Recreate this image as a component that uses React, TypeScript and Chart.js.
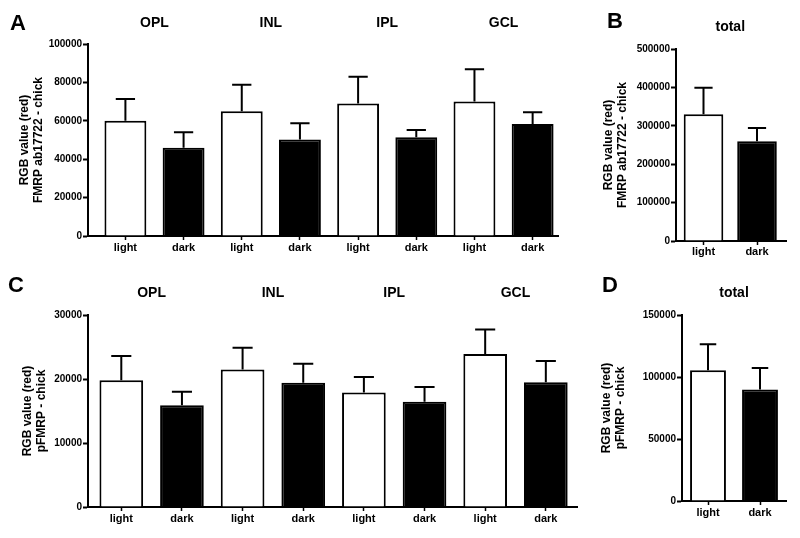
import React, { useEffect, useRef } from 'react';
import { Chart, registerables } from 'chart.js';

Chart.register(...registerables);

// ---------- data ----------
const layers = ['OPL', 'INL', 'IPL', 'GCL'];
const conditions = ['light', 'dark'];
const totalTitle = ['total'];

// A: FMRP ab17722 per layer
const fmrpLight = [60000, 65000, 69000, 70000];
const fmrpLightErr = [11300, 13800, 13900, 16800];
const fmrpDark = [46000, 50300, 51400, 58300];
const fmrpDarkErr = [8000, 8400, 3800, 6100];
// B: FMRP ab17722 total
const fmrpTotal = [330000, 260000];
const fmrpTotalErr = [69000, 34000];
// C: pFMRP per layer
const pfmrpLight = [19800, 21500, 17900, 23900];
const pfmrpLightErr = [3800, 3400, 2400, 3850];
const pfmrpDark = [15900, 19400, 16450, 19500];
const pfmrpDarkErr = [2100, 3000, 2300, 3300];
// D: pFMRP total
const pfmrpTotal = [105500, 90000];
const pfmrpTotalErr = [21000, 17200];

const yTitleFmrp = ['RGB value (red)', 'FMRP ab17722 - chick'];
const yTitlePfmrp = ['RGB value (red)', 'pFMRP - chick'];

const yTicksA = { max: 100000, step: 20000 };
const yTicksB = { max: 500000, step: 100000 };
const yTicksC = { max: 30000, step: 10000 };
const yTicksD = { max: 150000, step: 50000 };

const FONT = "'Liberation Sans', Arial, Helvetica, sans-serif";

function interleave(light: number[], dark: number[]) {
  const out: number[] = [];
  light.forEach((v, i) => { out.push(v, dark[i]); });
  return out;
}

type Panel = {
  letter: string;
  groups: string[];
  labels: string[];
  values: number[];
  errors: number[];
  yTitle: string[];
  yMax: number;
  yStep: number;
  pad: { left: number; right: number; top: number; bottom: number };
  yWidth: number;
  xMin: number;
  xMax: number;
  barPct: number;
  tickPad: number;
  letterPos: [number, number];
  groupY: number;
};

const panels: Panel[] = [
  {
    letter: 'A', groups: layers, labels: layers.flatMap(() => conditions),
    values: interleave(fmrpLight, fmrpDark), errors: interleave(fmrpLightErr, fmrpDarkErr),
    yTitle: yTitleFmrp, yMax: yTicksA.max, yStep: yTicksA.step,
    pad: { left: 18, right: 242, top: 44, bottom: 272 }, yWidth: 70,
    xMin: -0.643, xMax: 7.436, barPct: 0.72, tickPad: 1.4, letterPos: [10, 30], groupY: 23,
  },
  {
    letter: 'B', groups: totalTitle, labels: conditions,
    values: fmrpTotal, errors: fmrpTotalErr,
    yTitle: yTitleFmrp, yMax: yTicksB.max, yStep: yTicksB.step,
    pad: { left: 602, right: 14, top: 49, bottom: 267 }, yWidth: 74,
    xMin: -0.514, xMax: 1.542, barPct: 0.74, tickPad: 0.5, letterPos: [607, 28], groupY: 27,
  },
  {
    letter: 'C', groups: layers, labels: layers.flatMap(() => conditions),
    values: interleave(pfmrpLight, pfmrpDark), errors: interleave(pfmrpLightErr, pfmrpDarkErr),
    yTitle: yTitlePfmrp, yMax: yTicksC.max, yStep: yTicksC.step,
    pad: { left: 21, right: 223, top: 315, bottom: 1 }, yWidth: 67,
    xMin: -0.549, xMax: 7.514, barPct: 0.72, tickPad: 1, letterPos: [8, 292], groupY: 293,
  },
  {
    letter: 'D', groups: totalTitle, labels: conditions,
    values: pfmrpTotal, errors: pfmrpTotalErr,
    yTitle: yTitlePfmrp, yMax: yTicksD.max, yStep: yTicksD.step,
    pad: { left: 600, right: 14, top: 315, bottom: 7 }, yWidth: 82,
    xMin: -0.5, xMax: 1.5, barPct: 0.69, tickPad: 1.5, letterPos: [602, 292], groupY: 293,
  },
];

function makeChart(canvas: HTMLCanvasElement, p: Panel) {
  const perGroup = p.labels.length / p.groups.length;
  const overlay = {
    id: 'overlay' + p.letter,
    afterDatasetsDraw(chart: any) {
      const ctx = chart.ctx;
      const ys = chart.scales.y;
      const meta = chart.getDatasetMeta(0);
      ctx.save();
      ctx.strokeStyle = '#000';
      ctx.lineWidth = 2;
      meta.data.forEach((bar: any, i: number) => {
        const { x, y, width } = bar.getProps(['x', 'y', 'width'], true);
        const top = ys.getPixelForValue(p.values[i] + p.errors[i]);
        const cap = width * 0.23;
        ctx.beginPath();
        ctx.moveTo(x, y);
        ctx.lineTo(x, top);
        ctx.moveTo(x - cap, top);
        ctx.lineTo(x + cap, top);
        ctx.stroke();
      });
      ctx.restore();
    },
    afterDraw(chart: any) {
      const ctx = chart.ctx;
      const xs = chart.scales.x;
      ctx.save();
      ctx.fillStyle = '#000';
      ctx.font = `bold 22px ${FONT}`;
      ctx.textAlign = 'left';
      ctx.textBaseline = 'alphabetic';
      ctx.fillText(p.letter, p.letterPos[0], p.letterPos[1]);
      ctx.font = `bold 14px ${FONT}`;
      ctx.textAlign = 'center';
      ctx.textBaseline = 'middle';
      p.groups.forEach((g, gi) => {
        const mid = gi * perGroup + (perGroup - 1) / 2;
        ctx.fillText(g, xs.getPixelForValue(mid), p.groupY);
      });
      ctx.restore();
    },
  };

  return new Chart(canvas, {
    type: 'bar',
    data: {
      datasets: [
        {
          data: p.values.map((v, i) => ({ x: i, y: v })),
          backgroundColor: p.labels.map((l) => (l === 'dark' ? '#000' : '#fff')),
          borderColor: '#000',
          borderWidth: 2,
          categoryPercentage: 1,
          barPercentage: p.barPct,
        } as any,
      ],
    },
    options: {
      animation: false,
      responsive: false,
      devicePixelRatio: 1,
      layout: { padding: p.pad },
      plugins: { legend: { display: false }, tooltip: { enabled: false } },
      scales: {
        x: {
          type: 'linear',
          min: p.xMin,
          max: p.xMax,
          offset: false,
          grid: {
            display: true, drawOnChartArea: false, drawTicks: true, offset: false,
            tickLength: 4, tickWidth: 1.5, tickColor: '#000', color: '#000',
          },
          border: { display: true, color: '#000', width: 2 },
          afterBuildTicks: (s: any) => {
            s.ticks = p.labels.map((_, i) => ({ value: i }));
          },
          ticks: {
            autoSkip: false, maxRotation: 0, minRotation: 0,
            padding: p.tickPad, color: '#000',
            font: { family: FONT, size: 11, weight: 'bold' },
            callback: (v: any) => (Number.isInteger(v) && v >= 0 && v < p.labels.length ? p.labels[v] : ''),
          },
          afterFit: (s: any) => { s.height = 30; },
        },
        y: {
          type: 'linear',
          min: 0,
          max: p.yMax,
          grid: {
            display: true, drawOnChartArea: false, drawTicks: true,
            tickLength: 5, tickWidth: 2, tickColor: '#000', color: '#000',
          },
          border: { display: true, color: '#000', width: 2 },
          ticks: {
            stepSize: p.yStep, padding: 1, color: '#000',
            font: { family: FONT, size: 10, weight: 'bold' },
            callback: (v: any) => String(v),
          },
          title: {
            display: true, text: p.yTitle, color: '#000', padding: 0,
            font: { family: FONT, size: 12, weight: 'bold', lineHeight: 1.15 },
          },
          afterFit: (s: any) => { s.width = p.yWidth; },
        },
      } as any,
    },
    plugins: [overlay],
  } as any);
}

export default function App() {
  const refs = [useRef<HTMLCanvasElement>(null), useRef<HTMLCanvasElement>(null), useRef<HTMLCanvasElement>(null), useRef<HTMLCanvasElement>(null)];
  useEffect(() => {
    const charts = panels.map((p, i) => makeChart(refs[i].current as HTMLCanvasElement, p));
    return () => charts.forEach((c) => c.destroy());
  }, []);
  return (
    <div style={{ position: 'fixed', left: 0, top: 0, width: 800, height: 538, background: '#fff', overflow: 'hidden' }}>
      {refs.map((r, i) => (
        <canvas key={i} ref={r} width={800} height={538}
          style={{ position: 'absolute', left: 0, top: 0, width: 800, height: 538 }} />
      ))}
    </div>
  );
}
